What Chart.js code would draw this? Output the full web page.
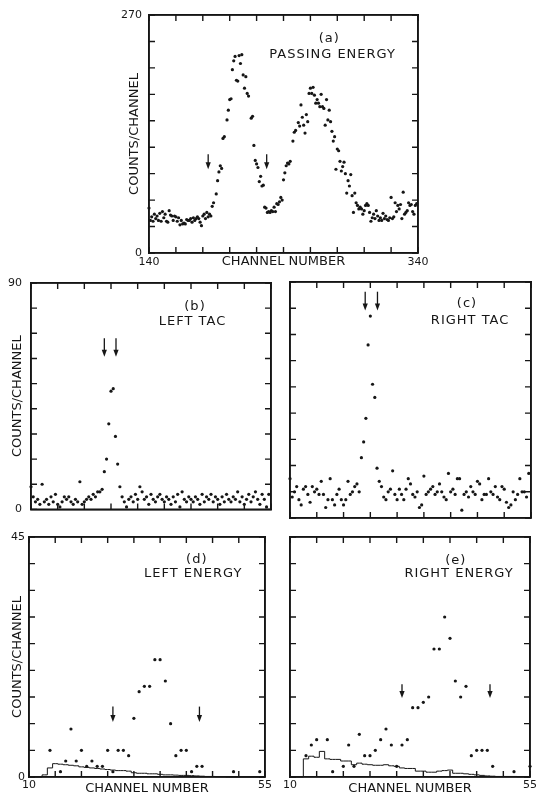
<!DOCTYPE html>
<html>
<head>
<meta charset="utf-8">
<title>Counts per channel</title>
<script src="https://cdn.jsdelivr.net/npm/chart.js@4.4.0/dist/chart.umd.min.js"></script>
<style>
  body { margin: 0; background: #fff; }
  #page { position: relative; width: 539px; height: 797px; overflow: hidden; background: #fff; }
  #page canvas { position: absolute; }
</style>
</head>
<body>
<div id="page">
  <canvas id="panelE"></canvas>
  <canvas id="panelD"></canvas>
  <canvas id="panelC"></canvas>
  <canvas id="panelB"></canvas>
  <canvas id="panelA"></canvas>
</div>
<script>
// (a) passing energy, one value per channel starting at 140 (null = no dot seen)
var passStart = 140;
var passCounts = [
  51, 37, 41, 36, 44, 39, 42, 37, 45, 36,
  47, 40, 44, 36, 35, 48, 43, 42, 37, 42,
  41, 36, 40, 32, 37, 33, 34, 33, 38, 37,
  37, 39, 35, 40, 37, 39, 41, 39, 35, 31,
  42, 44, 39, 46, 41, 44, 42, 53, 57, null,
  67, 82, 92, 99, 96, 130, 132, null, 151, 162,
  174, 175, 208, 218, 223, 196, 195, 224, 215, 225,
  202, 187, 200, 181, 178, null, 153, 155, 122, 105,
  101, 97, 81, 87, 76, 77, 52, 51, 46, 47,
  46, 48, 47, 52, 47, 56, 55, 58, 63, 60,
  83, 91, 99, 102, 101, 104, null, 127, 137, 139,
  null, 148, 144, 168, 154, 145, 136, 157, 149, 181,
  187, 181, 188, 179, 170, 174, 170, 166, 180, 166,
  164, 145, 174, 151, 162, 149, 138, 127, 132, 95,
  118, 116, 104, 93, 98, 103, 90, 68, 82, 76,
  89, 65, 46, 68, 57, 54, 50, 52, 50, 44,
  48, 54, 56, 54, 46, 36, 40, 44, 39, 48,
  42, 37, 40, 37, 45, 39, 42, 38, 37, 40,
  63, 39, 41, 57, 47, 54, 50, 55, 39, 69,
  44, 46, 48, 57, 54, 55, 47, 44, 54, 56
];
var passArrows = [184, 227.5];

// (b) left TAC and (c) right TAC, channel 0..107
var leftTac = [
  9, 5, 3, 4, 2, 10, 3, 4, 2, 5,
  3, 6, 2, 1, 3, 5, 4, 5, 3, 2,
  4, 3, 11, 2, 3, 4, 5, 4, 6, 5,
  7, 7, 8, 15, 20, 34, 47, 48, 29, 18,
  9, 5, 3, 1, 4, 5, 3, 6, 4, 9,
  7, 4, 5, 2, 6, 4, 3, 5, 6, 4,
  3, 5, 4, 2, 5, 3, 6, 1, 7, 4,
  3, 5, 4, 3, 5, 4, 2, 6, 3, 5,
  4, 6, 3, 5, 4, 2, 5, 3, 6, 4,
  3, 5, 4, 7, 3, 5, 2, 4, 6, 3,
  5, 7, 4, 2, 6, 4, 1, 6
];
var rightTac = [
  15, 8, 10, 12, 7, 5, 11, 12, 9, 6,
  12, 10, 11, 9, 14, 9, 4, 7, 15, 7,
  5, 9, 11, 7, 5, 7, 14, 9, 10, 12,
  13, 10, 23, 29, 38, 66, 77, 51, 46, 19,
  14, 12, 8, 7, 10, 11, 18, 9, 7, 11,
  9, 7, 11, 15, 13, 9, 8, 10, 4, 5,
  16, 9, 10, 11, 12, 9, 10, 13, 10, 8,
  7, 17, 10, 11, 9, 15, 15, 3, 9, 10,
  8, 12, 10, 9, 14, 13, 7, 9, 9, 15,
  10, 9, 12, 8, 7, 12, 11, 6, 4, 5,
  10, 7, 9, 15, 10, 10, 8, 17
];
var leftTacArrows = [33, 38.25];
var rightTacArrows = [33.7, 39.2];

// (d) left energy and (e) right energy: measured dots
var leftEnergyChannels = [14, 16, 17, 18, 19, 20, 21, 22, 23, 24, 25, 26, 27, 28, 29, 30, 31, 32, 33, 34, 35, 36, 37, 38, 39, 40, 41, 42, 43, 49, 54];
var leftEnergyCounts   = [5, 1, 3, 9, 3, 5, 2, 3, 2, 2, 5, 1, 5, 5, 4, 11, 16, 17, 17, 22, 22, 18, 10, 4, 5, 5, 1, 2, 2, 1, 1];
var rightEnergyChannels = [13, 14, 15, 17, 18, 20, 21, 22, 23, 24, 25, 26, 27, 28, 29, 30, 31, 32, 33, 34, 35, 36, 37, 38, 39, 40, 41, 42, 43, 44, 45, 46, 47, 48, 52, 55];
var rightEnergyCounts   = [4, 6, 7, 7, 1, 2, 6, 2, 8, 4, 4, 5, 7, 9, 6, 2, 6, 7, 13, 13, 14, 15, 24, 24, 30, 26, 18, 15, 17, 4, 5, 5, 5, 2, 1, 2];

// background histograms, channels 10..55
var energyBins = [10, 11, 12, 13, 14, 15, 16, 17, 18, 19, 20, 21, 22, 23, 24, 25, 26, 27, 28, 29, 30, 31, 32,
  33, 34, 35, 36, 37, 38, 39, 40, 41, 42, 43, 44, 45, 46, 47, 48, 49, 50, 51, 52, 53, 54, 55];
var leftBackground = [0, 0, 0, 0.4, 1.7, 2.5, 2.4, 2.3, 2.2, 2.1, 1.9, 1.8, 1.7, 1.6, 1.5, 1.4, 1.3, 1.2, 1.2,
  1.1, 0.8, 0.7, 0.7, 0.6, 0.6, 0.5, 0.4, 0.4, 0.35, 0.3, 0.3, 0.25, 0.2, 0.15, 0.1, 0.1, 0.05, 0.05,
  0, 0, 0, 0, 0, 0, 0, 0];
var rightBackground = [0, 0, 0, 3.4, 3.9, 3.7, 4.8, 3.4, 3.3, 3.3, 3.0, 3.0, 2.3, 2.6, 2.4, 2.3, 2.2, 2.2, 2.3,
  2.1, 2.0, 1.7, 1.6, 1.6, 1.1, 1.1, 0.9, 0.9, 1.1, 1.2, 1.3, 0.7, 0.7, 0.6, 0.5, 0.4, 0.3, 0.2, 0.15,
  0.1, 0.1, 0.1, 0.1, 0.05, 0.05, 0];
var leftEnergyArrows = [26, 42.5];
var rightEnergyArrows = [31, 47.5];

var ink = '#161616';
Chart.defaults.font.family = '"DejaVu Sans", sans-serif';
Chart.defaults.color = ink;

// text and arrows per panel (positions in data units)
var panelInfo = {
  panelA: { notes: [['(a)', 274, 243], ['PASSING ENERGY', 276.5, 224.5]], arrows: passArrows, top: 112, tip: 95 },
  panelB: { notes: [['(b)', 73.8, 80.8], ['LEFT TAC', 72.7, 74.7]], arrows: leftTacArrows, top: 68, tip: 60.7 },
  panelC: { notes: [['(c)', 79.3, 81.6], ['RIGHT TAC', 80.7, 75.1]], arrows: rightTacArrows, top: 86.3, tip: 79.1 },
  panelD: { notes: [['(d)', 42, 40.7], ['LEFT ENERGY', 41.3, 38.1]], arrows: leftEnergyArrows, top: 13.2, tip: 10.3 },
  panelE: { notes: [['(e)', 41.1, 40.5], ['RIGHT ENERGY', 41.7, 38.1]], arrows: rightEnergyArrows, top: 17.4, tip: 14.8 }
};

// box plus inward tick marks on all four sides
function drawTicks(chart) {
  var ctx = chart.ctx;
  var xs = chart.scales.x, ys = chart.scales.y;
  var x0 = xs.getPixelForValue(xs.min), x1 = xs.getPixelForValue(xs.max);
  var y0 = ys.getPixelForValue(ys.min), y1 = ys.getPixelForValue(ys.max);
  ctx.save();
  ctx.strokeStyle = ink;
  ctx.lineWidth = 1.6;
  ctx.beginPath();
  ctx.moveTo(x0, y0); ctx.lineTo(x1, y0);
  ctx.moveTo(x1, y0); ctx.lineTo(x1, y1);
  ctx.moveTo(x1, y1); ctx.lineTo(x0, y1);
  ctx.moveTo(x0, y1); ctx.lineTo(x0, y0);
  ctx.stroke();
  ctx.lineWidth = 1.4;
  ctx.beginPath();
  xs.ticks.forEach(function (t) {
    var px = xs.getPixelForValue(t.value);
    ctx.moveTo(px, y0); ctx.lineTo(px, y0 - 6);
    ctx.moveTo(px, y1); ctx.lineTo(px, y1 + 6);
  });
  ys.ticks.forEach(function (t) {
    var py = ys.getPixelForValue(t.value);
    ctx.moveTo(x0, py); ctx.lineTo(x0 + 6, py);
    ctx.moveTo(x1, py); ctx.lineTo(x1 - 6, py);
  });
  ctx.stroke();
  ctx.restore();
}

// arrows and captions
function drawNotes(chart) {
  var info = panelInfo[chart.canvas.id];
  if (!info) return;
  var ctx = chart.ctx;
  var xs = chart.scales.x, ys = chart.scales.y;
  ctx.save();
  ctx.strokeStyle = ink;
  ctx.fillStyle = ink;
  ctx.lineWidth = 1.3;
  var yTop = ys.getPixelForValue(info.top);
  var yTip = ys.getPixelForValue(info.tip);
  info.arrows.forEach(function (ch) {
    var px = xs.getPixelForValue(ch);
    ctx.beginPath();
    ctx.moveTo(px, yTop);
    ctx.lineTo(px, yTip - 5);
    ctx.stroke();
    ctx.beginPath();
    ctx.moveTo(px - 2.6, yTip - 7);
    ctx.lineTo(px + 2.6, yTip - 7);
    ctx.lineTo(px, yTip);
    ctx.closePath();
    ctx.fill();
  });
  ctx.font = '13px "DejaVu Sans", sans-serif';
  ctx.letterSpacing = '1px';
  ctx.textAlign = 'center';
  ctx.textBaseline = 'middle';
  info.notes.forEach(function (n) {
    ctx.fillText(n[0], xs.getPixelForValue(n[1]), ys.getPixelForValue(n[2]));
  });
  ctx.restore();
}

var panelMarks = {
  id: 'panelMarks',
  afterDatasetsDraw: function (chart) {
    drawNotes(chart);
    drawTicks(chart);
  }
};

// every step from min to max, whatever the axis length
function evenTicks(min, max, step) {
  return function (s) {
    var list = [];
    for (var v = min; v <= max + 1e-9; v += step) list.push({ value: v });
    s.ticks = list;
  };
}

function axis(min, max, step, o) {
  return {
    type: 'linear', min: min, max: max,
    grid: { display: false, drawTicks: false },
    border: { display: true, color: ink, width: 1.6 },
    ticks: {
      display: !!o.labels, stepSize: step, autoSkip: false, maxRotation: 0, minRotation: 0,
      padding: o.pad || 0, font: { size: 11 }, color: ink,
      callback: function (v) { return (v === min || v === max) ? String(v) : ''; }
    },
    title: {
      display: !!o.title, text: o.title || '', font: { size: 13 }, color: ink,
      padding: o.titlePad || { top: 0, bottom: 0 }
    },
    afterBuildTicks: evenTicks(min, max, step),
    afterFit: function (s) {
      if (s.isHorizontal()) s.height = o.size; else s.width = o.size;
    }
  };
}

// opposite side of the box: same range, no labels
function mirrorAxis(min, max, step, side) {
  return {
    type: 'linear', position: side, min: min, max: max,
    grid: { display: false, drawTicks: false },
    border: { display: true, color: ink, width: 1.6 },
    ticks: { display: false, stepSize: step },
    afterBuildTicks: evenTicks(min, max, step),
    afterFit: function (s) {
      if (s.isHorizontal()) s.height = 0; else s.width = 0;
    }
  };
}

function dots(xs, ys) {
  var pts = [];
  for (var i = 0; i < ys.length; i++) {
    if (ys[i] !== null) pts.push({ x: xs[i], y: ys[i] });
  }
  return pts;
}

function dotSet(pts) {
  return {
    type: 'scatter', data: pts, showLine: false, clip: false,
    pointRadius: 1.6, pointHoverRadius: 1.6, pointBorderWidth: 0,
    pointBackgroundColor: ink, borderColor: ink
  };
}

function histSet(pts) {
  return {
    type: 'line', data: pts, stepped: 'middle', clip: false,
    borderColor: ink, borderWidth: 1, pointRadius: 0, fill: false
  };
}

// area = wanted plot rectangle on the page
function makePanel(id, area, yW, xH, pad, datasets, xAxis, yAxis) {
  var canvas = document.getElementById(id);
  var w = pad.left + yW + (area.right - area.left) + pad.right;
  var h = pad.top + (area.bottom - area.top) + xH + pad.bottom;
  canvas.width = w;
  canvas.height = h;
  canvas.style.width = w + 'px';
  canvas.style.height = h + 'px';
  canvas.style.left = (area.left - yW - pad.left) + 'px';
  canvas.style.top = (area.top - pad.top) + 'px';
  return new Chart(canvas, {
    type: 'scatter',
    data: { datasets: datasets },
    options: {
      responsive: false, animation: false, devicePixelRatio: 1, events: [],
      layout: { padding: pad },
      plugins: { legend: { display: false }, tooltip: { enabled: false } },
      scales: {
        x: xAxis, y: yAxis,
        x2: mirrorAxis(xAxis.min, xAxis.max, xAxis.ticks.stepSize, 'top'),
        y2: mirrorAxis(yAxis.min, yAxis.max, yAxis.ticks.stepSize, 'right')
      }
    },
    plugins: [panelMarks]
  });
}

var passChannels = passCounts.map(function (v, i) { return passStart + i; });
var tacChannels = leftTac.map(function (v, i) { return i; });

makePanel('panelE', { left: 290, top: 537, right: 531, bottom: 777 }, 6, 20,
  { left: 6, top: 8, right: 8, bottom: 0 },
  [histSet(dots(energyBins, rightBackground)), dotSet(dots(rightEnergyChannels, rightEnergyCounts))],
  axis(10, 55, 5, { labels: true, pad: 2, size: 20, title: 'CHANNEL NUMBER', titlePad: { top: 0, bottom: 0.2 } }),
  axis(0, 45, 5, { size: 6 }));

makePanel('panelD', { left: 29, top: 537, right: 265, bottom: 777 }, 29, 20,
  { left: 0, top: 12, right: 10, bottom: 0 },
  [histSet(dots(energyBins, leftBackground)), dotSet(dots(leftEnergyChannels, leftEnergyCounts))],
  axis(10, 55, 5, { labels: true, pad: 2, size: 20, title: 'CHANNEL NUMBER', titlePad: { top: 0, bottom: 0.2 } }),
  axis(0, 45, 5, { labels: true, pad: 4, size: 29, title: 'COUNTS/CHANNEL', titlePad: { top: 9.7, bottom: 0 } }));

makePanel('panelC', { left: 290, top: 282, right: 531, bottom: 518 }, 4, 6,
  { left: 4, top: 8, right: 6, bottom: 0 },
  [dotSet(dots(tacChannels, rightTac))],
  axis(0, 108, 12, { size: 6 }),
  axis(0, 90, 10, { size: 4 }));

makePanel('panelB', { left: 31, top: 283, right: 271, bottom: 519 }, 31, 6,
  { left: 0, top: 16, right: 8, bottom: 0 },
  [dotSet(dots(tacChannels, leftTac))],
  axis(0, 108, 12, { size: 6 }),
  axis(0, 90, 10, { labels: true, pad: 9, size: 31, title: 'COUNTS/CHANNEL', titlePad: { top: 9.7, bottom: 0 } }));

makePanel('panelA', { left: 149, top: 15, right: 418, bottom: 253 }, 34, 20,
  { left: 0, top: 14, right: 16, bottom: 0 },
  [dotSet(dots(passChannels, passCounts))],
  axis(140, 340, 20, { labels: true, pad: 2.5, size: 20, title: 'CHANNEL NUMBER', titlePad: { top: 0, bottom: 4 } }),
  axis(0, 270, 30, { labels: true, pad: 7, size: 34, title: 'COUNTS/CHANNEL', titlePad: { top: 12, bottom: 0 } }));
</script>
</body>
</html>
